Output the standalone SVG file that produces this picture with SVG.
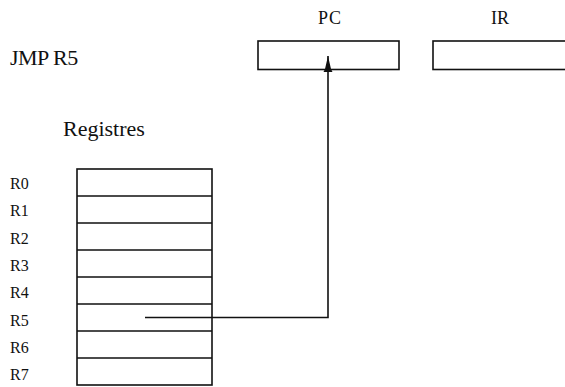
<svg xmlns="http://www.w3.org/2000/svg" width="565" height="387" viewBox="0 0 565 387">
  <style>
    text { font-family: "Liberation Serif", "DejaVu Serif", "Times New Roman", serif; fill: #111; }
    .box { fill: #fff; stroke: #111; stroke-width: 1.6; }
    .wire { fill: none; stroke: #111; stroke-width: 1.6; }
    .big { font-size: 22px; }
    .reg { font-size: 16px; }
    .lbl { font-size: 18px; text-anchor: middle; }
  </style>
  <defs>
    <marker id="head" viewBox="0 0 16 10" refX="16" refY="5" markerWidth="16" markerHeight="10" markerUnits="userSpaceOnUse" orient="auto">
      <path d="M0,0.5 L3,2 L16,5 L3,8 L0,9.5 Z" fill="#111"/>
    </marker>
  </defs>

  <!-- instruction text -->
  <g id="instr">
    <text class="big" x="10" y="65" letter-spacing="-0.5">JMP R5</text>
  </g>

  <!-- program counter -->
  <g id="pc">
    <text class="lbl" x="330" y="24" letter-spacing="1">PC</text>
    <rect class="box" x="258" y="41" width="141" height="28.5"/>
  </g>

  <!-- instruction register -->
  <g id="ir">
    <text class="lbl" x="500" y="24">IR</text>
    <rect class="box" x="433" y="41" width="140" height="28.5"/>
  </g>

  <!-- register file -->
  <g id="registres">
    <text class="big" x="63" y="136">Registres</text>
    <rect class="box" x="77" y="169" width="135" height="216"/>
    <path class="wire" d="M77,196H212 M77,223H212 M77,250H212 M77,277H212 M77,304H212 M77,331H212 M77,358H212"/>
    <text class="reg" x="10" y="189">R0</text>
    <text class="reg" x="10" y="216.3">R1</text>
    <text class="reg" x="10" y="243.6">R2</text>
    <text class="reg" x="10" y="270.9">R3</text>
    <text class="reg" x="10" y="298.2">R4</text>
    <text class="reg" x="10" y="325.5">R5</text>
    <text class="reg" x="10" y="352.8">R6</text>
    <text class="reg" x="10" y="380.1">R7</text>
  </g>

  <!-- R5 contents loaded into PC -->
  <g id="connectors">
    <path class="wire" d="M145,317.5H328V56" marker-end="url(#head)"/>
  </g>
</svg>
